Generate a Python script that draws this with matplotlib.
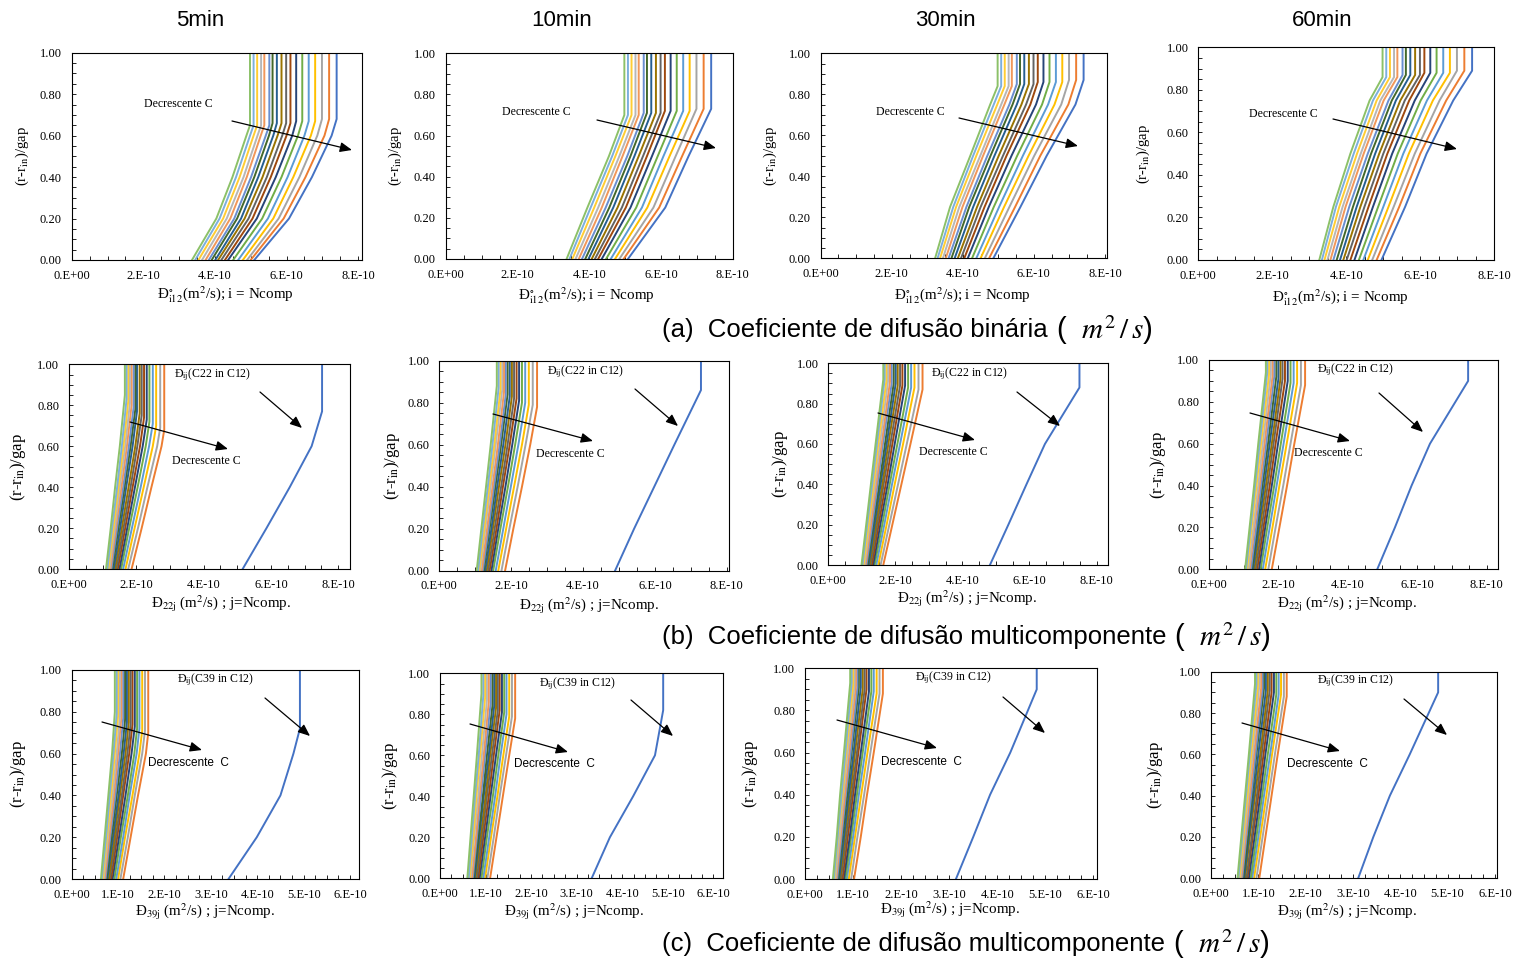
import matplotlib.pyplot as plt
from matplotlib.patches import FancyArrowPatch
from matplotlib.ticker import MultipleLocator, FuncFormatter

plt.rcParams['font.family'] = ['Liberation Serif', 'DejaVu Serif']
plt.rcParams['mathtext.fontset'] = 'stix'

W, H = 1519, 964

# x values are in units of 1e-10 m2/s, series order = Excel series order
# (series 1 = blue, rightmost curve; last series = light green, leftmost)

# ---------------- (a) binary coefficients ----------------
a_top = [7.40, 7.19, 6.99, 6.80, 6.62, 6.44, 6.27, 6.11, 5.99, 5.86, 5.73, 5.61, 5.52, 5.38, 5.29, 5.18, 5.08, 4.98]

a5_levels = [0.0, 0.2, 0.4, 0.6]
a5_x = [
    [5.10, 5.00, 4.90, 4.78, 4.65, 4.51, 4.37, 4.28, 4.18, 4.09, 4.01, 3.91, 3.83, 3.74, 3.64, 3.54, 3.45, 3.36],
    [6.07, 5.92, 5.78, 5.63, 5.48, 5.32, 5.17, 5.05, 4.94, 4.83, 4.73, 4.62, 4.54, 4.43, 4.33, 4.23, 4.13, 4.04],
    [6.71, 6.53, 6.36, 6.19, 6.03, 5.86, 5.70, 5.56, 5.45, 5.33, 5.21, 5.10, 5.01, 4.89, 4.80, 4.69, 4.59, 4.49],
    [7.26, 7.06, 6.86, 6.68, 6.50, 6.32, 6.16, 6.00, 5.88, 5.75, 5.63, 5.51, 5.42, 5.28, 5.19, 5.08, 4.98, 4.88],
]
a5_knee = [0.68, 0.68, 0.68, 0.67, 0.67, 0.67, 0.67, 0.66, 0.66, 0.66, 0.66, 0.66, 0.65, 0.65, 0.65, 0.65, 0.65, 0.65]

a10_levels = [0.0, 0.25, 0.5]
a10_x = [
    [5.08, 4.96, 4.84, 4.72, 4.60, 4.47, 4.35, 4.25, 4.16, 4.07, 3.98, 3.89, 3.80, 3.71, 3.62, 3.53, 3.45, 3.37],
    [6.12, 5.95, 5.79, 5.62, 5.47, 5.31, 5.15, 5.02, 4.91, 4.79, 4.67, 4.56, 4.46, 4.35, 4.25, 4.14, 4.04, 3.95],
    [6.77, 6.59, 6.41, 6.24, 6.07, 5.91, 5.75, 5.61, 5.50, 5.38, 5.26, 5.15, 5.06, 4.93, 4.84, 4.73, 4.64, 4.55],
]
a10_knee = [0.73, 0.73, 0.73, 0.72, 0.72, 0.72, 0.72, 0.72, 0.71, 0.71, 0.71, 0.71, 0.71, 0.70, 0.70, 0.70, 0.70, 0.70]

a30_levels = [0.0, 0.25, 0.5, 0.75]
a30_x = [
    [4.86, 4.74, 4.62, 4.50, 4.38, 4.26, 4.14, 4.04, 3.95, 3.86, 3.77, 3.68, 3.60, 3.52, 3.44, 3.36, 3.29, 3.22],
    [5.62, 5.47, 5.31, 5.16, 5.02, 4.87, 4.73, 4.61, 4.50, 4.40, 4.29, 4.18, 4.10, 3.99, 3.90, 3.81, 3.73, 3.64],
    [6.36, 6.18, 6.01, 5.85, 5.69, 5.53, 5.37, 5.23, 5.13, 5.01, 4.89, 4.78, 4.69, 4.57, 4.49, 4.38, 4.29, 4.21],
    [7.17, 6.97, 6.77, 6.58, 6.40, 6.23, 6.06, 5.90, 5.78, 5.65, 5.52, 5.40, 5.31, 5.17, 5.08, 4.97, 4.87, 4.77],
]
a30_knee = [0.87, 0.87, 0.87, 0.86, 0.86, 0.86, 0.86, 0.86, 0.85, 0.85, 0.85, 0.85, 0.85, 0.84, 0.84, 0.84, 0.84, 0.84]

a60_levels = [0.0, 0.25, 0.5, 0.75]
a60_x = [
    [4.95, 4.82, 4.70, 4.58, 4.46, 4.34, 4.22, 4.11, 4.01, 3.92, 3.83, 3.74, 3.65, 3.57, 3.49, 3.41, 3.34, 3.27],
    [5.59, 5.43, 5.28, 5.14, 5.00, 4.86, 4.72, 4.60, 4.49, 4.38, 4.28, 4.18, 4.08, 3.98, 3.90, 3.81, 3.72, 3.65],
    [6.17, 6.00, 5.85, 5.69, 5.54, 5.39, 5.24, 5.11, 5.00, 4.89, 4.78, 4.67, 4.58, 4.47, 4.39, 4.29, 4.20, 4.11],
    [6.89, 6.70, 6.52, 6.34, 6.18, 6.01, 5.85, 5.70, 5.58, 5.46, 5.34, 5.23, 5.14, 5.01, 4.92, 4.82, 4.72, 4.63],
]
a60_knee = [0.89, 0.89, 0.89, 0.88, 0.88, 0.88, 0.88, 0.88, 0.87, 0.87, 0.87, 0.87, 0.87, 0.86, 0.86, 0.86, 0.86, 0.86]

# ---------------- (b) D22j ----------------
bc_levels = [0.0, 0.2, 0.4, 0.6]

b5_x = [
    [5.16, 1.86, 1.76, 1.68, 1.61, 1.55, 1.50, 1.45, 1.41, 1.37, 1.33, 1.29, 1.26, 1.23, 1.20, 1.17, 1.14, 1.10],
    [5.87, 2.16, 2.05, 1.95, 1.87, 1.79, 1.73, 1.67, 1.62, 1.57, 1.52, 1.47, 1.43, 1.39, 1.36, 1.32, 1.28, 1.24],
    [6.56, 2.45, 2.33, 2.22, 2.13, 2.04, 1.96, 1.89, 1.83, 1.77, 1.70, 1.65, 1.61, 1.56, 1.51, 1.47, 1.43, 1.37],
    [7.21, 2.75, 2.62, 2.49, 2.38, 2.28, 2.19, 2.11, 2.03, 1.97, 1.89, 1.83, 1.78, 1.72, 1.67, 1.62, 1.57, 1.51],
]
b5_knee = [0.77, 0.68, 0.69, 0.70, 0.71, 0.72, 0.73, 0.74, 0.75, 0.76, 0.77, 0.78, 0.79, 0.80, 0.81, 0.82, 0.83, 0.85]
b5_top = [7.52, 2.83, 2.71, 2.59, 2.49, 2.39, 2.31, 2.23, 2.16, 2.10, 2.02, 1.97, 1.92, 1.86, 1.81, 1.76, 1.71, 1.66]

b10_x = [
    [4.89, 1.83, 1.73, 1.64, 1.57, 1.50, 1.45, 1.40, 1.36, 1.32, 1.28, 1.24, 1.21, 1.18, 1.14, 1.11, 1.08, 1.04],
    [5.42, 2.06, 1.95, 1.86, 1.78, 1.70, 1.64, 1.59, 1.54, 1.49, 1.45, 1.40, 1.37, 1.33, 1.28, 1.25, 1.21, 1.17],
    [5.98, 2.30, 2.18, 2.08, 1.99, 1.91, 1.84, 1.77, 1.72, 1.66, 1.61, 1.56, 1.52, 1.48, 1.43, 1.39, 1.35, 1.30],
    [6.54, 2.53, 2.40, 2.30, 2.20, 2.11, 2.03, 1.96, 1.90, 1.84, 1.78, 1.72, 1.68, 1.63, 1.57, 1.53, 1.48, 1.43],
]
b10_knee = [0.86, 0.78, 0.79, 0.79, 0.80, 0.80, 0.81, 0.82, 0.82, 0.83, 0.83, 0.84, 0.84, 0.85, 0.86, 0.86, 0.87, 0.88]
b10_top = [7.28, 2.72, 2.60, 2.49, 2.39, 2.30, 2.22, 2.15, 2.08, 2.02, 1.96, 1.90, 1.85, 1.80, 1.75, 1.70, 1.65, 1.60]

b30_x = [
    [4.82, 1.64, 1.56, 1.49, 1.43, 1.38, 1.34, 1.30, 1.26, 1.23, 1.20, 1.17, 1.14, 1.11, 1.08, 1.05, 1.02, 0.99],
    [5.37, 1.91, 1.82, 1.74, 1.67, 1.61, 1.55, 1.50, 1.46, 1.42, 1.38, 1.34, 1.31, 1.27, 1.23, 1.20, 1.16, 1.13],
    [5.91, 2.18, 2.08, 1.98, 1.90, 1.83, 1.77, 1.71, 1.65, 1.61, 1.56, 1.52, 1.47, 1.43, 1.39, 1.35, 1.31, 1.27],
    [6.46, 2.45, 2.34, 2.23, 2.14, 2.06, 1.98, 1.91, 1.85, 1.79, 1.74, 1.69, 1.63, 1.59, 1.54, 1.49, 1.45, 1.41],
]
b30_knee = [0.88, 0.87, 0.87, 0.88, 0.88, 0.88, 0.89, 0.89, 0.89, 0.89, 0.90, 0.90, 0.90, 0.91, 0.91, 0.91, 0.92, 0.92]
b30_top = [7.49, 2.81, 2.69, 2.57, 2.47, 2.38, 2.29, 2.21, 2.14, 2.07, 2.01, 1.95, 1.89, 1.84, 1.78, 1.73, 1.68, 1.64]

b60_x = [
    [4.85, 1.81, 1.71, 1.62, 1.55, 1.49, 1.44, 1.39, 1.35, 1.31, 1.27, 1.24, 1.21, 1.17, 1.14, 1.10, 1.07, 1.04],
    [5.36, 2.03, 1.92, 1.83, 1.75, 1.68, 1.62, 1.57, 1.52, 1.47, 1.43, 1.39, 1.36, 1.31, 1.28, 1.23, 1.20, 1.17],
    [5.84, 2.25, 2.14, 2.03, 1.95, 1.88, 1.81, 1.75, 1.69, 1.64, 1.59, 1.54, 1.50, 1.46, 1.42, 1.37, 1.33, 1.30],
    [6.37, 2.46, 2.35, 2.24, 2.15, 2.07, 1.99, 1.92, 1.86, 1.81, 1.75, 1.70, 1.65, 1.60, 1.55, 1.50, 1.46, 1.42],
]
b60_knee = [0.90, 0.88, 0.88, 0.89, 0.89, 0.89, 0.90, 0.90, 0.91, 0.91, 0.91, 0.92, 0.92, 0.92, 0.93, 0.93, 0.94, 0.94]
b60_top = [7.47, 2.77, 2.65, 2.54, 2.44, 2.35, 2.27, 2.19, 2.12, 2.06, 2.00, 1.94, 1.88, 1.83, 1.78, 1.73, 1.68, 1.64]

# ---------------- (c) D39j ----------------
c5_x = [
    [3.38, 1.11, 1.05, 1.00, 0.96, 0.92, 0.88, 0.85, 0.82, 0.80, 0.77, 0.75, 0.73, 0.71, 0.69, 0.67, 0.65, 0.63],
    [3.99, 1.27, 1.21, 1.15, 1.11, 1.06, 1.02, 0.98, 0.95, 0.92, 0.89, 0.86, 0.83, 0.81, 0.78, 0.76, 0.74, 0.71],
    [4.50, 1.43, 1.36, 1.31, 1.25, 1.21, 1.16, 1.11, 1.08, 1.04, 1.01, 0.97, 0.94, 0.91, 0.88, 0.85, 0.82, 0.79],
    [4.78, 1.60, 1.52, 1.46, 1.40, 1.35, 1.29, 1.24, 1.20, 1.16, 1.12, 1.08, 1.04, 1.00, 0.97, 0.93, 0.90, 0.87],
]
c5_knee = [0.72, 0.70, 0.71, 0.71, 0.72, 0.72, 0.73, 0.74, 0.74, 0.75, 0.75, 0.76, 0.77, 0.77, 0.78, 0.78, 0.79, 0.80]
c5_top = [4.92, 1.65, 1.58, 1.52, 1.46, 1.41, 1.36, 1.31, 1.27, 1.23, 1.19, 1.15, 1.11, 1.07, 1.04, 1.00, 0.97, 0.93]

c10_x = [
    [3.33, 1.10, 1.04, 0.99, 0.95, 0.91, 0.87, 0.84, 0.81, 0.78, 0.76, 0.74, 0.72, 0.70, 0.67, 0.65, 0.63, 0.60],
    [3.73, 1.24, 1.18, 1.12, 1.08, 1.03, 0.99, 0.95, 0.92, 0.89, 0.86, 0.84, 0.81, 0.79, 0.75, 0.73, 0.70, 0.67],
    [4.24, 1.38, 1.31, 1.26, 1.21, 1.16, 1.11, 1.07, 1.03, 1.00, 0.96, 0.94, 0.90, 0.87, 0.84, 0.80, 0.77, 0.74],
    [4.72, 1.52, 1.45, 1.39, 1.33, 1.28, 1.23, 1.18, 1.14, 1.10, 1.07, 1.03, 0.99, 0.96, 0.92, 0.88, 0.85, 0.81],
]
c10_knee = [0.82, 0.78, 0.79, 0.79, 0.80, 0.81, 0.81, 0.82, 0.82, 0.83, 0.84, 0.84, 0.85, 0.86, 0.87, 0.88, 0.89, 0.90]
c10_top = [4.90, 1.65, 1.58, 1.52, 1.46, 1.41, 1.36, 1.31, 1.27, 1.23, 1.19, 1.15, 1.11, 1.07, 1.03, 0.99, 0.95, 0.91]

c30_x = [
    [3.14, 1.02, 0.96, 0.91, 0.87, 0.84, 0.81, 0.78, 0.75, 0.73, 0.71, 0.69, 0.67, 0.65, 0.63, 0.61, 0.60, 0.58],
    [3.50, 1.16, 1.09, 1.04, 1.00, 0.96, 0.93, 0.89, 0.86, 0.83, 0.81, 0.78, 0.76, 0.74, 0.72, 0.69, 0.68, 0.66],
    [3.85, 1.29, 1.23, 1.17, 1.12, 1.08, 1.04, 1.00, 0.97, 0.94, 0.91, 0.88, 0.85, 0.83, 0.80, 0.78, 0.76, 0.73],
    [4.27, 1.43, 1.36, 1.30, 1.25, 1.20, 1.16, 1.11, 1.08, 1.04, 1.01, 0.97, 0.95, 0.92, 0.89, 0.86, 0.84, 0.81],
]
c30_knee = [0.90, 0.88, 0.88, 0.88, 0.89, 0.89, 0.89, 0.90, 0.90, 0.90, 0.91, 0.91, 0.91, 0.92, 0.92, 0.92, 0.93, 0.93]
c30_top = [4.82, 1.62, 1.55, 1.49, 1.43, 1.38, 1.33, 1.28, 1.24, 1.20, 1.16, 1.12, 1.09, 1.06, 1.03, 1.00, 0.97, 0.94]

c60_x = [
    [3.11, 1.02, 0.96, 0.91, 0.87, 0.84, 0.80, 0.77, 0.75, 0.72, 0.70, 0.68, 0.66, 0.64, 0.62, 0.60, 0.58, 0.56],
    [3.43, 1.15, 1.09, 1.04, 1.00, 0.96, 0.92, 0.88, 0.86, 0.82, 0.80, 0.78, 0.75, 0.73, 0.71, 0.68, 0.66, 0.64],
    [3.78, 1.28, 1.22, 1.17, 1.12, 1.08, 1.04, 1.00, 0.97, 0.93, 0.90, 0.87, 0.85, 0.82, 0.79, 0.77, 0.74, 0.72],
    [4.20, 1.41, 1.35, 1.29, 1.25, 1.20, 1.15, 1.11, 1.07, 1.04, 1.00, 0.96, 0.94, 0.91, 0.88, 0.85, 0.82, 0.80],
]
c60_knee = [0.90, 0.88, 0.88, 0.89, 0.89, 0.89, 0.90, 0.90, 0.91, 0.91, 0.91, 0.92, 0.92, 0.92, 0.93, 0.93, 0.94, 0.94]
c60_top = [4.80, 1.60, 1.54, 1.48, 1.43, 1.38, 1.33, 1.28, 1.24, 1.20, 1.16, 1.12, 1.09, 1.06, 1.02, 0.99, 0.96, 0.93]

times = ['5min', '10min', '30min', '60min']
captions = ['(a)  Coeficiente de difusão binária',
            '(b)  Coeficiente de difusão multicomponente',
            '(c)  Coeficiente de difusão multicomponente']
unit_text = '(  $m^{2}\\,/\\,s$)'
xlabels = ['Đ$^{\\circ}_{\\mathrm{i12}}$(m$^{2}$/s); i = Ncomp',
           'Đ$_{\\mathrm{22j}}$ (m$^{2}$/s) ; j=Ncomp.',
           'Đ$_{\\mathrm{39j}}$ (m$^{2}$/s) ; j=Ncomp.']
pair_labels = [None, 'Đ$_{\\mathrm{ij}}$(C22 in C12)', 'Đ$_{\\mathrm{ij}}$(C39 in C12)']

colors = ['#4472C4', '#ED7D31', '#A5A5A5', '#FFC000', '#5B9BD5', '#70AD47',
          '#264478', '#9E480E', '#636363', '#997300', '#255E91', '#43682B',
          '#698ED0', '#F1975A', '#B7B7B7', '#FFCD33', '#7CAFDD', '#8CC168']

SANS = ['Liberation Sans', 'DejaVu Sans']
SERIF = ['Liberation Serif', 'DejaVu Serif']


def fx(x):
    return x / W


def fy(y):
    return 1 - y / H


def xfmt(v, pos):
    if abs(v) < 1e-9:
        return '0.E+00'
    return f'{v:.0f}.E-10'


# panel layout in pixels: frame (left, right, top, bottom), xmax, xstep,
# ylabel x, xlabel (x, y), "Decrescente" text (x, y), its arrow, pair text (x, y), its arrow
panels = [
    # row a
    dict(row=0, frame=(71.7, 361.7, 52.7, 260), xmax=8.1, step=2, lev=a5_levels, x=a5_x, knee=a5_knee, top=a_top,
         yl=22, xl=(225, 295), dec=(178, 104), dar=((232, 121), (352, 150))),
    dict(row=0, frame=(445.7, 732.7, 53.3, 259), xmax=8.0, step=2, lev=a10_levels, x=a10_x, knee=a10_knee, top=a_top,
         yl=395, xl=(586, 296), dec=(536, 112), dar=((597, 120), (716, 148))),
    dict(row=0, frame=(820.7, 1106.7, 53.3, 258.3), xmax=8.05, step=2, lev=a30_levels, x=a30_x, knee=a30_knee, top=a_top,
         yl=770, xl=(962, 296), dec=(910, 112), dar=((959, 118), (1078, 146))),
    dict(row=0, frame=(1198.3, 1494.3, 47.3, 260), xmax=8.0, step=2, lev=a60_levels, x=a60_x, knee=a60_knee, top=a_top,
         yl=1143, xl=(1340, 298), dec=(1283, 114), dar=((1333, 119), (1457, 149))),
    # row b
    dict(row=1, frame=(69, 350, 364.3, 569), xmax=8.35, step=2, lev=bc_levels, x=b5_x, knee=b5_knee, top=b5_top,
         yl=18, xl=(221, 604), dec=(206, 461), dar=((130, 422), (228, 449)),
         pair=(213, 375), par=((260, 392), (302, 428))),
    dict(row=1, frame=(439.3, 729, 360.7, 570.7), xmax=8.06, step=2, lev=bc_levels, x=b10_x, knee=b10_knee, top=b10_top,
         yl=392, xl=(589, 606), dec=(570, 454), dar=((493, 414), (593, 441)),
         pair=(586, 372), par=((635, 389), (678, 426))),
    dict(row=1, frame=(828.3, 1108.3, 363.3, 565), xmax=8.35, step=2, lev=bc_levels, x=b30_x, knee=b30_knee, top=b30_top,
         yl=780, xl=(967, 599), dec=(953, 452), dar=((878, 413), (975, 440)),
         pair=(970, 374), par=((1017, 392), (1060, 426))),
    dict(row=1, frame=(1209, 1498.3, 360, 569.3), xmax=8.34, step=2, lev=bc_levels, x=b60_x, knee=b60_knee, top=b60_top,
         yl=1158, xl=(1347, 604), dec=(1328, 453), dar=((1250, 413), (1350, 441)),
         pair=(1356, 370), par=((1379, 393), (1423, 432))),
    # row c
    dict(row=2, frame=(71.7, 359.3, 670, 879), xmax=6.2, step=1, lev=bc_levels, x=c5_x, knee=c5_knee, top=c5_top,
         yl=18, xl=(205, 912), dec=(188, 763), dar=((102, 722), (202, 750)),
         pair=(216, 680), par=((265, 698), (310, 736))),
    dict(row=2, frame=(440, 723.3, 673.3, 878.3), xmax=6.22, step=1, lev=bc_levels, x=c10_x, knee=c10_knee, top=c10_top,
         yl=390, xl=(574, 912), dec=(554, 764), dar=((470, 724), (568, 752)),
         pair=(578, 684), par=((631, 700), (673, 736))),
    dict(row=2, frame=(805, 1097.3, 668.3, 879), xmax=6.08, step=1, lev=bc_levels, x=c30_x, knee=c30_knee, top=c30_top,
         yl=750, xl=(950, 910), dec=(921, 762), dar=((837, 720), (937, 748)),
         pair=(954, 678), par=((1003, 697), (1045, 733))),
    dict(row=2, frame=(1211, 1497.3, 671.7, 878.3), xmax=6.05, step=1, lev=bc_levels, x=c60_x, knee=c60_knee, top=c60_top,
         yl=1155, xl=(1347, 912), dec=(1327, 764), dar=((1242, 723), (1340, 751)),
         pair=(1356, 681), par=((1404, 699), (1447, 735))),
]

fig = plt.figure(figsize=(W / 100, H / 100), dpi=100)


def arrow(p0, p1):
    fig.add_artist(FancyArrowPatch((fx(p0[0]), fy(p0[1])), (fx(p1[0]), fy(p1[1])),
                                   transform=fig.transFigure,
                                   arrowstyle='-|>,head_length=0.6,head_width=0.25',
                                   mutation_scale=12, lw=0.9, color='black',
                                   shrinkA=0, shrinkB=0))


for p in panels:
    l, r, t, b = p['frame']
    ax = fig.add_axes([fx(l), fy(b), (r - l) / W, (b - t) / H])
    for i in range(len(p['top'])):
        xs = [row[i] for row in p['x']] + [p['top'][i], p['top'][i]]
        ys = list(p['lev']) + [p['knee'][i], 1.0]
        ax.plot(xs, ys, color=colors[i], lw=1.4, solid_joinstyle='round')

    ax.set_xlim(0, p['xmax'])
    ax.set_ylim(0, 1)
    ax.xaxis.set_major_locator(MultipleLocator(p['step']))
    ax.xaxis.set_minor_locator(MultipleLocator(p['step'] / 4))
    ax.xaxis.set_major_formatter(FuncFormatter(xfmt))
    ax.yaxis.set_major_locator(MultipleLocator(0.2))
    ax.yaxis.set_minor_locator(MultipleLocator(0.05))
    ax.yaxis.set_major_formatter(FuncFormatter(lambda v, pos: f'{v:.2f}'))
    ax.tick_params(which='both', direction='in', length=3, width=0.6, labelsize=9)
    ax.tick_params(axis='y', which='both', pad=7)
    ax.tick_params(axis='x', which='both', pad=7)
    ax.tick_params(which='both', top=False, right=False)
    for s in ax.spines.values():
        s.set_linewidth(0.8)
        s.set_color('black')

    row = p['row']
    ysize = 10.5 if row == 0 else 12
    fig.text(fx(p['yl']), fy((t + b) / 2), '(r-r$_{\\mathrm{in}}$)/gap', rotation=90,
             ha='center', va='center', fontsize=ysize)
    fig.text(fx(p['xl'][0]), fy(p['xl'][1]), xlabels[row], ha='center', va='center', fontsize=10.8)

    dec_text = 'Decrescente  C' if row == 2 else 'Decrescente C'
    dec_family = SANS if row == 2 else SERIF
    fig.text(fx(p['dec'][0]), fy(p['dec'][1]), dec_text, ha='center', va='center',
             fontsize=8.5, family=dec_family)
    arrow(*p['dar'])
    if 'pair' in p:
        fig.text(fx(p['pair'][0]), fy(p['pair'][1]), pair_labels[row], ha='center', va='center', fontsize=8.5)
        arrow(*p['par'])

for name, xc in zip(times, [200, 562, 945, 1322]):
    fig.text(fx(xc), fy(20), name, ha='center', va='center', fontsize=16, family=SANS)

renderer = fig.canvas.get_renderer()
for cap, yc in zip(captions, [330, 637, 944]):
    t = fig.text(fx(662), fy(yc), cap, ha='left', va='center', fontsize=18.5, family=SANS)
    ext = t.get_window_extent(renderer)
    fig.text((ext.x1 + 8) / W, fy(yc), unit_text, ha='left', va='center', fontsize=21, family=SANS)

fig.savefig('out.png', dpi=100)
